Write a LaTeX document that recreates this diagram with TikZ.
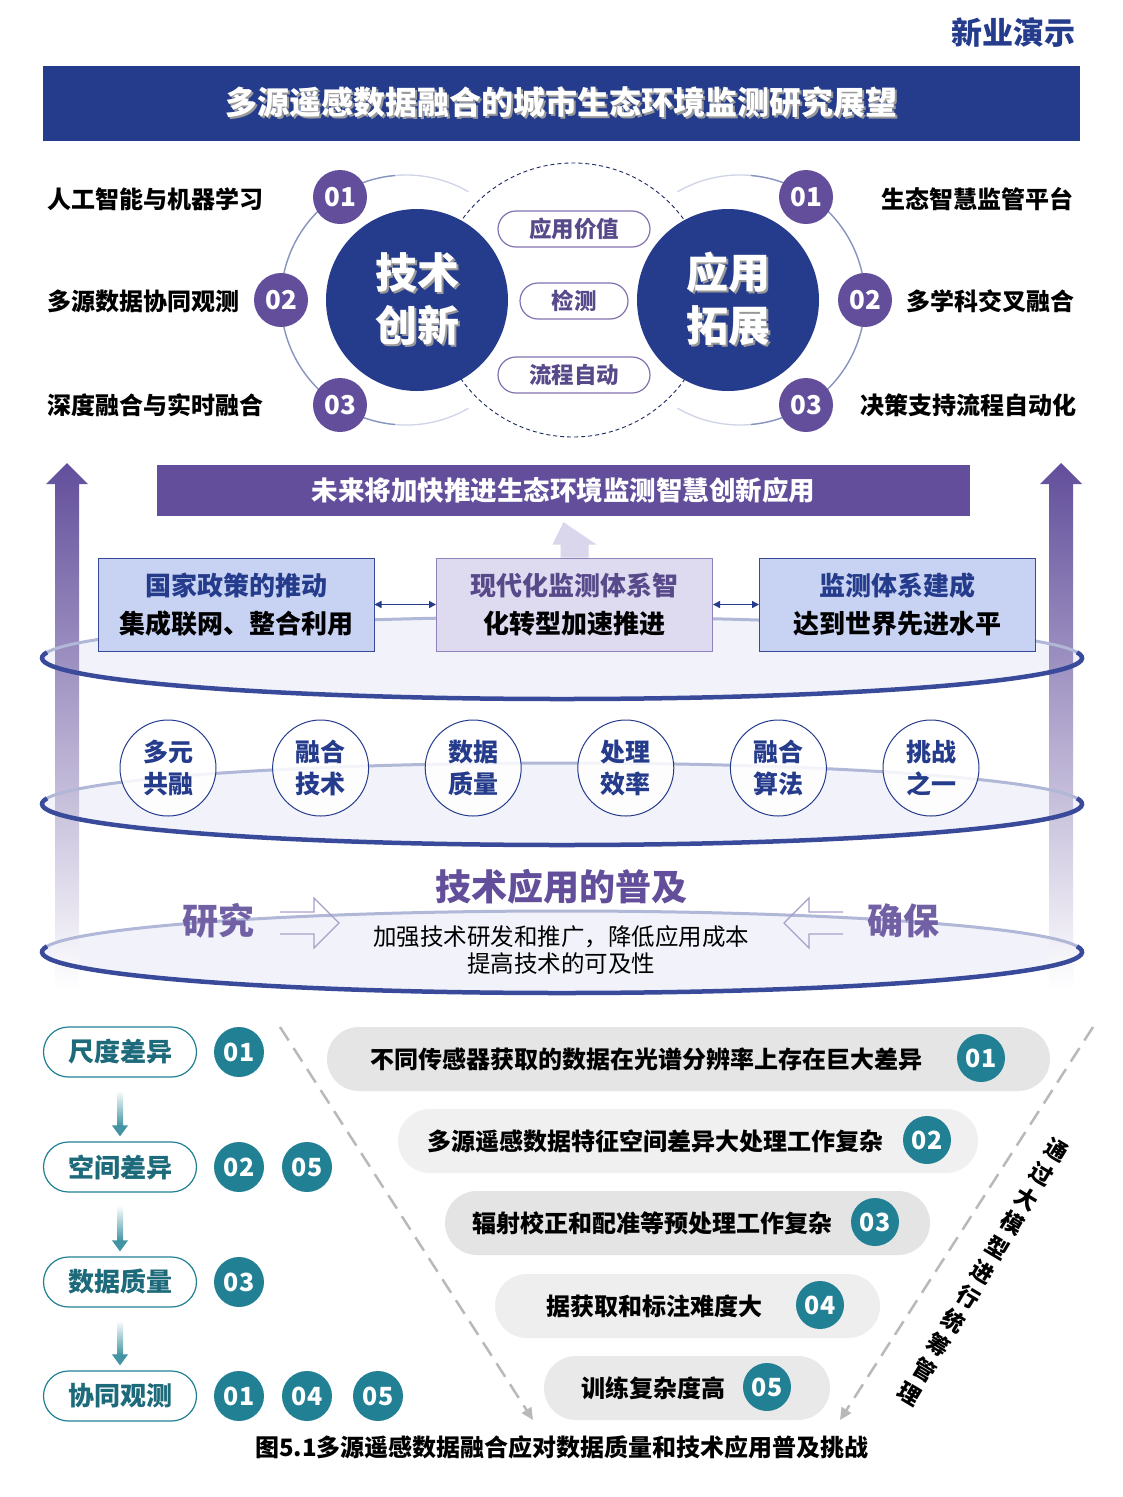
\documentclass[tikz,border=0pt]{standalone}
\usepackage{fontspec}
\setmainfont{Noto Sans CJK SC}
\usetikzlibrary{arrows.meta,positioning,calc}

\definecolor{navy}{RGB}{37, 60, 140}
\definecolor{plum}{RGB}{98, 78, 155}
\definecolor{ringblue}{RGB}{58, 74, 154}
\definecolor{paleblue}{RGB}{200, 210, 242}
\definecolor{palelilac}{RGB}{222, 219, 240}
\definecolor{lilacarrow}{RGB}{218, 214, 236}
\definecolor{mist}{RGB}{242, 243, 250}
\definecolor{sea}{RGB}{33, 128, 148}
\definecolor{deepsea}{RGB}{28, 106, 122}
\definecolor{dashgrey}{RGB}{185, 185, 185}
\definecolor{tagtext}{RGB}{88, 74, 138}

\newcommand{\setfs}[2]{\fontsize{#1}{#2}\selectfont}
\newcommand{\shadetext}[1]{\rlap{\hspace{2pt}\raisebox{-2pt}{\color{black!40}#1}}#1}

\tikzset{
  numball/.style={circle, fill=plum, text=white, minimum size=54pt, inner sep=0pt,
    font=\bfseries\setfs{26}{30}},
  seaball/.style={circle, fill=sea, text=white, minimum size=50pt, inner sep=0pt,
    font=\bfseries\setfs{25}{30}},
  hub/.style={circle, fill=navy, text=white, minimum size=182pt, inner sep=0pt,
    align=center, font=\bfseries\setfs{42}{53}},
  sidelabel/.style={inner sep=0pt, font=\bfseries\setfs{24}{28}},
  tagpill/.style={draw=plum!80, line width=1.2pt, fill=white, rounded corners=18pt,
    minimum height=36pt, inner sep=0pt, text=tagtext, font=\bfseries\setfs{22.5}{26}},
  infobox/.style={draw=ringblue, line width=1pt, minimum width=276pt, minimum height=93pt,
    inner sep=0pt, align=center, font=\bfseries\setfs{26}{38}},
  bubble/.style={circle, draw=navy, line width=1pt, fill=white, fill opacity=0.85,
    text opacity=1, minimum size=96pt, inner sep=0pt, align=center, text=navy,
    font=\bfseries\setfs{25}{32}},
  stagepill/.style={draw=sea, line width=1.2pt, fill=white, rounded corners=25pt,
    minimum width=153pt, minimum height=50pt, inner sep=0pt, text=deepsea,
    font=\bfseries\setfs{26}{30}},
  issuepill/.style={rounded corners=32pt, minimum height=64pt, inner sep=0pt},
  issuetext/.style={inner sep=0pt, font=\bfseries\setfs{24}{28}},
  guide/.style={dashgrey, line width=2.5pt, dash pattern=on 16pt off 9pt,
    -{Triangle[width=11pt,length=12pt]}},
}

\begin{document}
\begin{tikzpicture}[x=1pt, y=-1pt]
  \useasboundingbox (0,0) rectangle (1123,1497);
  \fill[white] (0,0) rectangle (1123,1497);

  % header and title bar
  \node[anchor=east, inner sep=0pt, text=navy, font=\bfseries\setfs{31}{36}] (brand) at (1076,33) {新业演示};
  \node[fill=navy, minimum width=1037pt, minimum height=75pt, inner sep=0pt, text=white,
        font=\bfseries\setfs{32}{38}] (title) at (561.5,103.5)
        {\shadetext{多源遥感数据融合的城市生态环境监测研究展望}};

  % dashed ring behind the tags, thin orbits round the hubs
  \draw[navy!70!black, line width=0.9pt, dash pattern=on 4pt off 3pt] (573,300) circle[radius=137];
  \draw[navy!22, line width=1.3pt] (406,300) ++(60:125) arc[start angle=60, end angle=300, radius=125];
  \draw[navy!55, line width=1.3pt] (406,300) ++(95:125) arc[start angle=95, end angle=265, radius=125];
  \draw[navy!22, line width=1.3pt] (740,300) ++(-120:125) arc[start angle=-120, end angle=120, radius=125];
  \draw[navy!55, line width=1.3pt] (740,300) ++(-85:125) arc[start angle=-85, end angle=85, radius=125];

  \node[hub] (tech) at (417,300) {\shadetext{技术}\\\shadetext{创新}};
  \node[hub] (apply) at (728,300) {\shadetext{应用}\\\shadetext{拓展}};

  \node[tagpill, minimum width=152pt] (value) at (574,229) {应用价值};
  \node[tagpill, minimum width=108pt] (detect) at (574,301) {检测};
  \node[tagpill, minimum width=152pt] (flow) at (574,375) {流程自动};

  \foreach \n/\x/\y in {1/340/197, 2/281/300, 3/340/405}
    \node[numball] (tl\n) at (\x,\y) {0\n};
  \foreach \n/\x/\y in {1/806/197, 2/865/300, 3/806/405}
    \node[numball] (tr\n) at (\x,\y) {0\n};

  \foreach \n/\y/\txt in {1/199/人工智能与机器学习, 2/301/多源数据协同观测, 3/405/深度融合与实时融合}
    \node[sidelabel, anchor=west] (ll\n) at (47,\y) {\txt};
  \foreach \n/\y/\x/\txt in {1/199/1074/生态智慧监管平台, 2/301/1075/多学科交叉融合, 3/405/1077/决策支持流程自动化}
    \node[sidelabel, anchor=east] (rl\n) at (\x,\y) {\txt};

  % the three discs: fills first, then the rising side arrows, then the rims
  \foreach \cy in {658, 804, 952}
    \fill[mist] (562,\cy) ellipse[x radius=520, y radius=41];

  \foreach \x in {67, 1061}
    \shade[top color=plum, middle color=plum!65, bottom color=white]
      (\x-12,990) -- (\x-12,484) -- (\x-21,484) -- (\x,463) -- (\x+21,484)
      -- (\x+12,484) -- (\x+12,990) -- cycle;

  \foreach \cy in {658, 804, 952} {
    \draw[ringblue!40, line width=3pt] (562,\cy) ellipse[x radius=520, y radius=41];
    \draw[ringblue, line width=4.5pt] (562,\cy) ++(-8:520 and 41)
      arc[start angle=-8, end angle=188, x radius=520, y radius=41];
  }

  \node[fill=plum, minimum width=813pt, minimum height=51pt, inner sep=0pt, text=white,
        font=\bfseries\setfs{26.5}{30}] (future) at (563.5,490.5) {未来将加快推进生态环境监测智慧创新应用};

  \node[infobox, fill=paleblue] (policy) at (236,604.5)
    {\textcolor{navy}{国家政策的推动}\\集成联网、整合利用};
  \node[infobox, fill=palelilac, draw=plum!70] (modern) at (574.5,604.5)
    {\textcolor{tagtext}{现代化监测体系智}\\化转型加速推进};
  \node[infobox, fill=paleblue] (target) at (897.5,604.5)
    {\textcolor{navy}{监测体系建成}\\达到世界先进水平};

  % broad arrow up to the banner
  \fill[lilacarrow] ($(modern.north)+(-14,0)$) -- ++(0,-13) -- ++(-8,0)
    -- ($(future.south)+(0,6)$) -- ($(modern.north)+(22,-13)$) -- ++(-8,0) -- ++(0,13) -- cycle;

  \draw[navy, line width=1.5pt, {Triangle[width=7pt,length=7pt]}-{Triangle[width=7pt,length=7pt]}]
    (policy.east) -- (modern.west);
  \draw[navy, line width=1.5pt, {Triangle[width=7pt,length=7pt]}-{Triangle[width=7pt,length=7pt]}]
    (modern.east) -- (target.west);

  \foreach \a/\b [count=\i] in {多元/共融, 融合/技术, 数据/质量, 处理/效率, 融合/算法, 挑战/之一}
    \node[bubble] (bub\i) at ({168+(\i-1)*152.6},768) {\a\\\b};

  \node[text=plum, font=\bfseries\setfs{36}{40}, inner sep=0pt] (spread) at (561,887) {技术应用的普及};
  \node[text=plum!90, font=\bfseries\setfs{36}{40}, inner sep=0pt] (study) at (218,921) {研究};
  \node[text=plum!90, font=\bfseries\setfs{36}{40}, inner sep=0pt] (ensure) at (903,921) {确保};
  \node[align=center, font=\setfs{23.5}{26.5}, inner sep=0pt] (means) at (561,950)
    {加强技术研发和推广，降低应用成本\\提高技术的可及性};

  % hollow arrows
  \draw[plum!55, line width=1.3pt] (280,912) -- (314,912) -- (314,898) -- (339,923)
    -- (314,948) -- (314,934) -- (280,934);
  \draw[plum!55, line width=1.3pt] (843,912) -- (809,912) -- (809,898) -- (784,923)
    -- (809,948) -- (809,934) -- (843,934);

  % stages on the left
  \foreach \n/\y/\txt in {1/1052/尺度差异, 2/1167/空间差异, 3/1282/数据质量, 4/1396/协同观测}
    \node[stagepill] (stage\n) at (120,\y) {\txt};
  \foreach \n/\m in {1/2, 2/3, 3/4} {
    \shade[top color=white, bottom color=sea!85]
      ($(stage\n.south)+(-3,13)$) rectangle ($(stage\m.north)+(3,-15)$);
    \fill[sea!85] ($(stage\m.north)+(-8,-16)$) -- ($(stage\m.north)+(8,-16)$)
      -- ($(stage\m.north)+(0,-5)$) -- cycle;
  }
  \foreach \lbl/\x/\y [count=\i] in {01/239/1052, 02/239/1167, 05/307/1167, 03/239/1282,
                                     01/239/1396, 04/307/1396, 05/378/1396}
    \node[seaball] (mark\i) at (\x,\y) {\lbl};

  % the funnel of issues
  \foreach \n/\l/\r/\y/\g/\tx/\nx/\txt in {
      1/327/1050/1059/90/646/981/不同传感器获取的数据在光谱分辨率上存在巨大差异,
      2/398/978/1141/94/655/927/多源遥感数据特征空间差异大处理工作复杂,
      3/445/930/1223/89.5/652/875/辐射校正和配准等预处理工作复杂,
      4/495/880/1306/93.5/654/820/据获取和标注难度大,
      5/544/830/1388/91.5/653/767/训练复杂度高} {
    \node[issuepill, fill=white!\g!black, minimum width={(\r-\l)*1pt}] (issue\n) at ({(\l+\r)/2},\y) {};
    \node[issuetext] (itext\n) at (\tx,\y) {\txt};
    \node[seaball, minimum size=48pt] (inum\n) at (\nx,\y-1) {0\n};
  }

  \coordinate (gl0) at (280,1027);
  \coordinate (gl1) at (533,1420);
  \coordinate (gr0) at (1093,1027);
  \coordinate (gr1) at (840,1420);
  \draw[guide] (gl0) -- (gl1);
  \draw[guide] (gr0) -- (gr1);

  % upright column of characters, tilted along the right guide
  \node[rotate=-31, align=center, inner sep=0pt, font=\bfseries\setfs{22.5}{28.5}] (unify) at (983,1272)
    {通\\过\\大\\模\\型\\进\\行\\统\\筹\\管\\理};

  \node[inner sep=0pt, font=\bfseries\setfs{24}{28}] (caption) at (562,1447)
    {图5.1多源遥感数据融合应对数据质量和技术应用普及挑战};
\end{tikzpicture}
\end{document}
